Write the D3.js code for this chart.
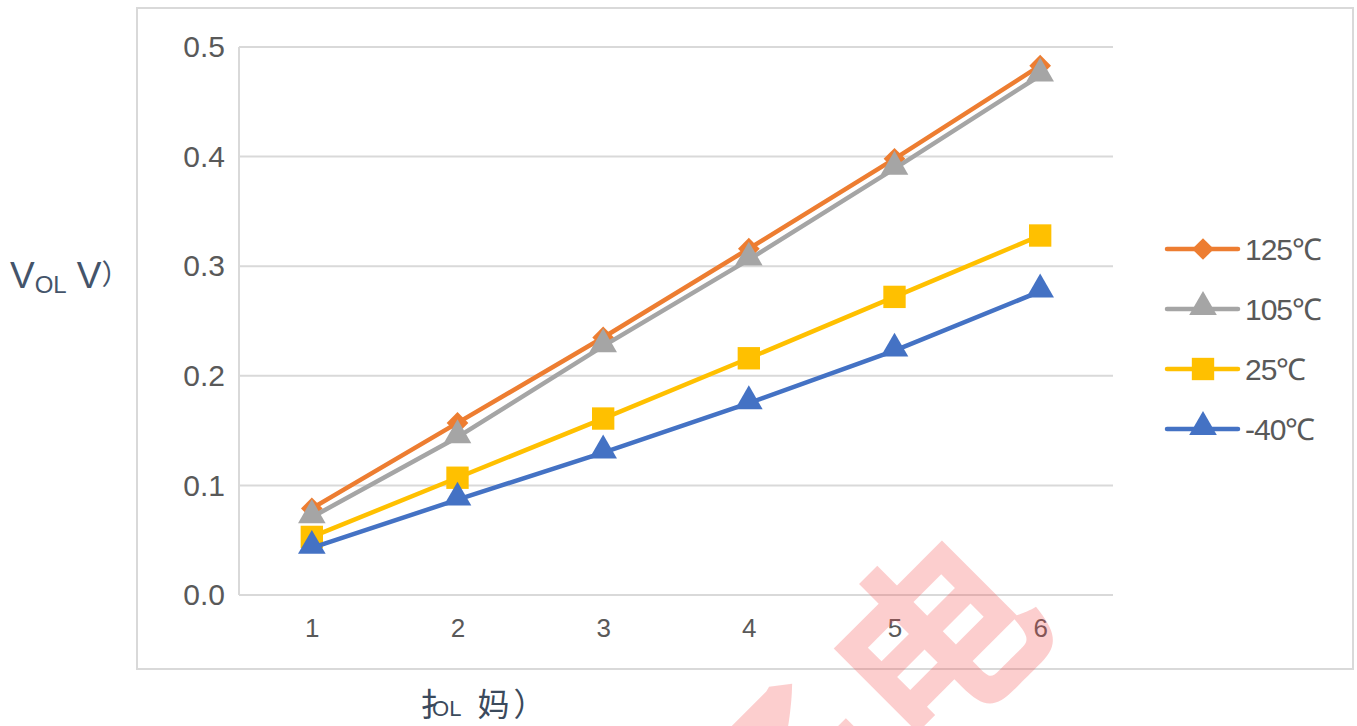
<!DOCTYPE html>
<html>
<head>
<meta charset="utf-8">
<script src="https://cdn.jsdelivr.net/npm/d3@7"></script>
<style>
  body { margin: 0; background: #fff; }
  svg { display: block; font-family: Arial, "Liberation Sans", sans-serif; }
</style>
</head>
<body>
<svg id="chart" width="1357" height="726"></svg>
<script>
// data
const currents = [1, 2, 3, 4, 5, 6];
const yTicks = [0, 0.1, 0.2, 0.3, 0.4, 0.5];
const v125 = [0.079, 0.157, 0.235, 0.316, 0.398, 0.483];
const v105 = [0.071, 0.144, 0.227, 0.306, 0.389, 0.474];
const v25 = [0.053, 0.107, 0.161, 0.216, 0.272, 0.328];
const vm40 = [0.043, 0.087, 0.130, 0.175, 0.223, 0.277];
const seriesNames = ["125\u2103", "105\u2103", "25\u2103", "-40\u2103"];

const series = [
    {name: seriesNames[0], values: v125, color: "#ED7D31", marker: "diamond"},
    {name: seriesNames[1], values: v105, color: "#A5A5A5", marker: "triangle"},
    {name: seriesNames[2], values: v25, color: "#FFC000", marker: "square"},
    {name: seriesNames[3], values: vm40, color: "#4472C4", marker: "triangle"}
];

const svg = d3.select("#chart");
const plot = {left: 239, right: 1113, top: 47, bottom: 595};

const x = d3.scalePoint().domain(currents).range([plot.left, plot.right]).padding(0.5);
const y = d3.scaleLinear().domain([0, 0.5]).range([plot.bottom, plot.top]);

// outer frame
svg.append("rect")
    .attr("x", 137).attr("y", 8)
    .attr("width", 1216).attr("height", 661)
    .attr("fill", "none")
    .attr("stroke", "#d9d9d9")
    .attr("stroke-width", 2);

// gridlines
svg.append("g")
    .selectAll("line")
    .data(yTicks)
    .join("line")
    .attr("x1", plot.left).attr("x2", plot.right)
    .attr("y1", d => y(d)).attr("y2", d => y(d))
    .attr("stroke", "#d9d9d9")
    .attr("stroke-width", 2);

svg.append("line")
    .attr("x1", plot.left).attr("x2", plot.left)
    .attr("y1", plot.top).attr("y2", plot.bottom)
    .attr("stroke", "#d9d9d9")
    .attr("stroke-width", 2);

// y axis labels
const yAxis = d3.axisLeft(y).tickValues(yTicks).tickFormat(d3.format(".1f")).tickSize(0).tickPadding(14);
const gy = svg.append("g").attr("transform", `translate(${plot.left},0)`).call(yAxis);
gy.select(".domain").remove();
gy.selectAll("text").attr("font-size", 30).attr("fill", "#595959").attr("font-family", "Arial, 'Liberation Sans', sans-serif");

// x axis labels
const xAxis = d3.axisBottom(x).tickSize(0).tickPadding(24);
const gx = svg.append("g").attr("transform", `translate(0,${plot.bottom})`).call(xAxis);
gx.select(".domain").remove();
gx.selectAll("text").attr("font-size", 26).attr("fill", "#595959").attr("font-family", "Arial, 'Liberation Sans', sans-serif");

function markerPath(type) {
    if (type === "diamond") return d3.symbol(d3.symbolDiamond2, 300)();
    if (type === "square") return d3.symbol(d3.symbolSquare, 500)();
    return d3.symbol(d3.symbolTriangle, 330)();
}

const line = d3.line()
    .x((d, i) => x(currents[i]))
    .y(d => y(d));

series.forEach(s => {
    const g = svg.append("g");
    g.append("path")
        .attr("d", line(s.values))
        .attr("fill", "none")
        .attr("stroke", s.color)
        .attr("stroke-width", 4.5)
        .attr("stroke-linejoin", "round")
        .attr("stroke-linecap", "round");
    g.selectAll("path.m")
        .data(s.values)
        .join("path")
        .attr("class", "m")
        .attr("d", markerPath(s.marker))
        .attr("transform", (d, i) => `translate(${x(currents[i])},${y(d) + (s.marker === "triangle" ? -2 : 0)})`)
        .attr("fill", s.color);
});

// legend
const legend = svg.append("g").attr("transform", "translate(1167,249)");
series.forEach((s, i) => {
    const row = legend.append("g").attr("transform", `translate(0,${i * 60})`);
    row.append("line")
        .attr("x1", 0).attr("x2", 71)
        .attr("stroke", s.color)
        .attr("stroke-width", 4.5)
        .attr("stroke-linecap", "round");
    row.append("path")
        .attr("d", markerPath(s.marker))
        .attr("transform", `translate(36,${s.marker === "triangle" ? -2 : 0})`)
        .attr("fill", s.color);
    row.append("text")
        .attr("x", 78).attr("y", 11)
        .attr("font-size", 30)
        .attr("fill", "#595959")
        .attr("letter-spacing", -1)
        .text(s.name);
});

// axis titles
const yTitle = svg.append("text")
    .attr("x", 10).attr("y", 288)
    .attr("fill", "#44546A")
    .attr("font-size", 37);
yTitle.append("tspan").text("V");
yTitle.append("tspan").attr("font-size", 24).attr("dy", 5).text("OL");
yTitle.append("tspan").attr("dy", -5).attr("dx", 10).text("V");
yTitle.append("tspan").attr("font-family", "Noto Sans CJK SC").attr("font-size", 28).attr("dy", -3).text("\uFF09");

const xTitle = svg.append("text")
    .attr("x", 420).attr("y", 716)
    .attr("fill", "#3B4A5C")
    .attr("font-size", 32)
    .attr("font-family", "Noto Sans CJK SC");
xTitle.append("tspan").text("\u624C");
xTitle.append("tspan").attr("dx", -20).attr("font-size", 22).attr("font-family", "Arial").text("OL");
xTitle.append("tspan").attr("dx", 16).text("\u5988");
xTitle.append("tspan").attr("dx", 4).text("\uFF09");

// watermark
const wm = svg.append("g")
    .attr("transform", "translate(950,655) rotate(-45)")
    .attr("font-size", 200)
    .attr("font-weight", "bold")
    .attr("font-family", "Noto Sans CJK SC")
    .attr("fill", "rgba(245, 80, 80, 0.28)")
    .attr("text-anchor", "middle")
    .attr("dominant-baseline", "middle");
wm.append("text").attr("x", 0).text("\u7535");
wm.append("text").attr("x", -210).text("\u5b50");
</script>
</body>
</html>
